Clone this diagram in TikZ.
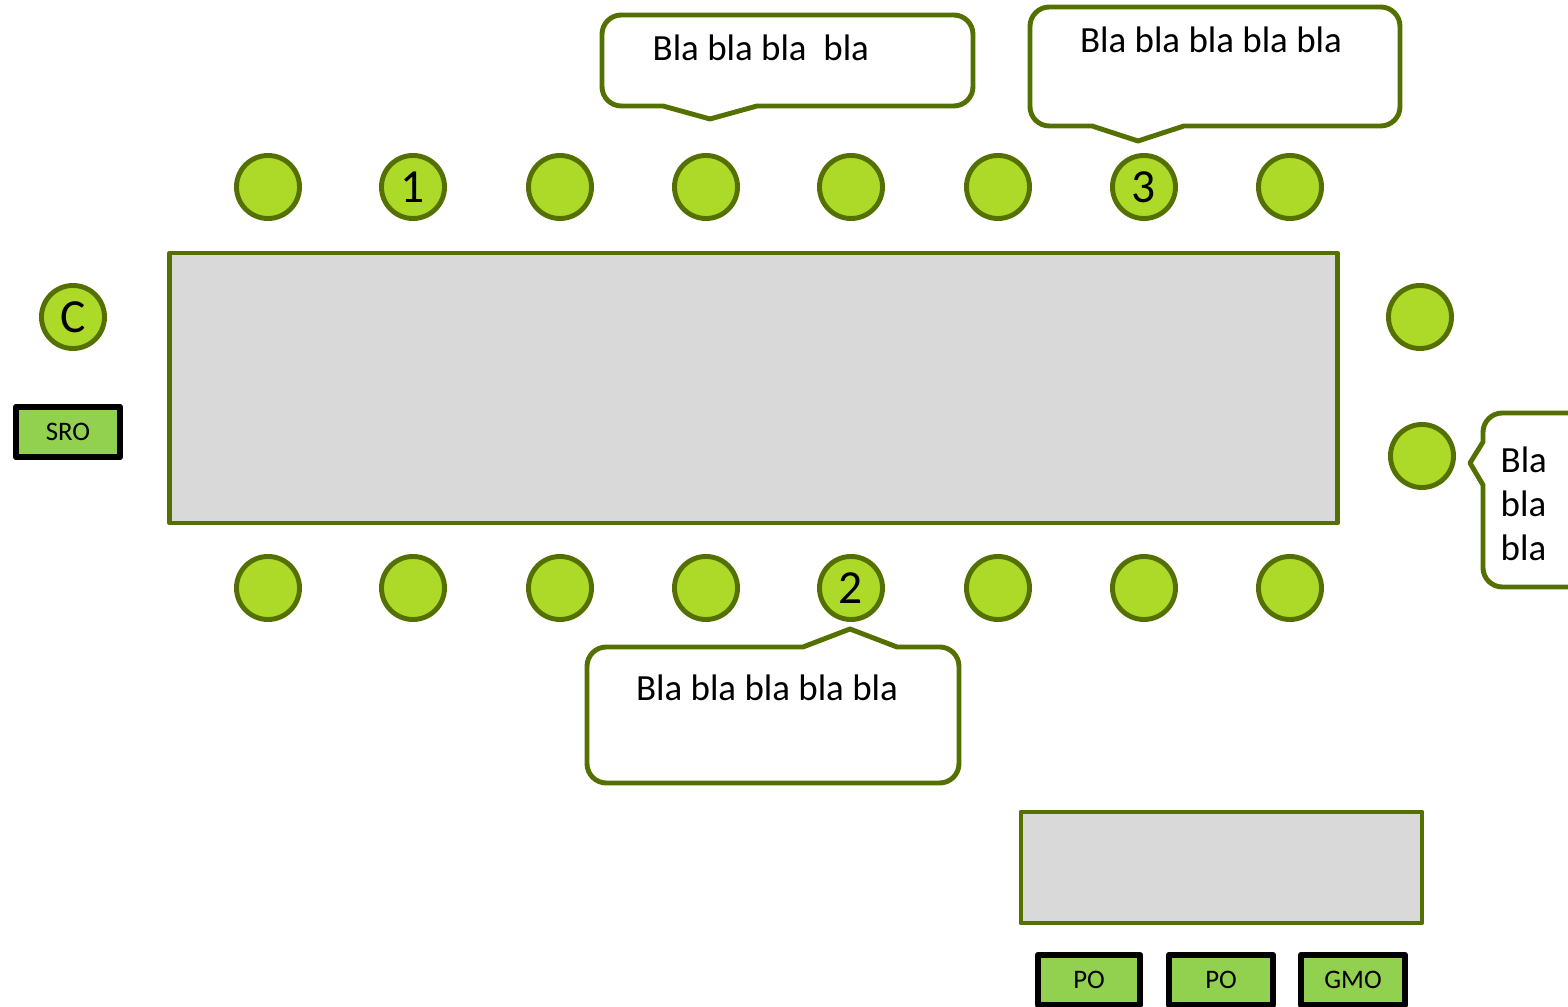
\documentclass[tikz,border=0pt]{standalone}
\usepackage{fontspec}
\setmainfont{Carlito}
\definecolor{seatfill}{RGB}{173,218,40}
\definecolor{seatline}{RGB}{84,112,0}
\definecolor{tablegray}{RGB}{217,217,217}
\definecolor{rolefill}{RGB}{146,208,80}

\begin{document}
\begin{tikzpicture}[x=0.01cm,y=-0.01cm,line join=round,
  seat/.style={circle,draw=seatline,fill=seatfill,line width=1.4pt,minimum size=6.3mm,inner sep=0pt,font=\fontsize{13.5}{15}\selectfont},
  role/.style={rectangle,draw=black,fill=rolefill,line width=1.8pt,minimum height=5mm,inner sep=0pt,font=\fontsize{7.6}{9}\selectfont},
  board/.style={rectangle,draw=seatline,fill=tablegray,line width=1.3pt,inner sep=0pt},
  bubble/.style={draw=seatline,fill=white,line width=1.4pt},
  note/.style={inner sep=0pt,font=\fontsize{10.5}{12.5}\selectfont}]
  \useasboundingbox (0,0) rectangle (1568,1007);

  \node[board,minimum width=11.67cm,minimum height=2.7cm] (table) at (753.5,388) {};
  \node[board,minimum width=4.01cm,minimum height=1.11cm] (desk) at (1221.5,867.5) {};

  \foreach \x/\t [count=\i] in {268/{},413/1,560/{},706/{},851/{},998/{},1144/3,1290/{}}
    \node[seat] (t\i) at (\x,187) {\t};
  \foreach \x/\t [count=\i] in {268/{},413/{},560/{},706/{},851/2,998/{},1144/{},1290/{}}
    \node[seat] (b\i) at (\x,588) {\t};
  \node[seat] (r1) at (1420,317) {};
  \node[seat] (r2) at (1422,456) {};
  \node[seat] (chair) at (73,317) {C};

  \node[role,minimum width=1.04cm] (sro) at (68,432) {SRO};
  \node[role,minimum width=1.02cm] (po1) at (1089,980) {PO};
  \node[role,minimum width=1.04cm] (po2) at (1221,980) {PO};
  \node[role,minimum width=1.04cm] (gmo) at (1353,980) {GMO};

  \draw[bubble] (710,119) -- (757,106) [rounded corners=5.5pt] -- (973,106) -- (973,15)
    -- (602,15) -- (602,106) [sharp corners] -- (663,106) -- cycle;
  \draw[bubble] (1138,141) -- (1184,126) [rounded corners=5.5pt] -- (1400,126) -- (1400,7)
    -- (1030,7) -- (1030,126) [sharp corners] -- (1092,126) -- cycle;
  \draw[bubble] (850,629) -- (803,647) [rounded corners=5.5pt] -- (587,647) -- (587,783)
    -- (959,783) -- (959,647) [sharp corners] -- (897,647) -- cycle;
  \draw[bubble] (1470,463) -- (1483,442) [rounded corners=5.5pt] -- (1483,413) -- (1620,413)
    -- (1620,587) -- (1483,587) [sharp corners] -- (1483,485) -- cycle;

  \node[note,anchor=west] (noteA) at (652,48) {Bla bla bla \ bla};
  \node[note] (noteB) at (1211,40) {Bla bla bla bla bla};
  \node[note] (noteC) at (767,688) {Bla bla bla bla bla};
  \node[note,anchor=west,align=left] (noteD) at (1500,504) {Bla\\bla\\bla};
\end{tikzpicture}
\end{document}
